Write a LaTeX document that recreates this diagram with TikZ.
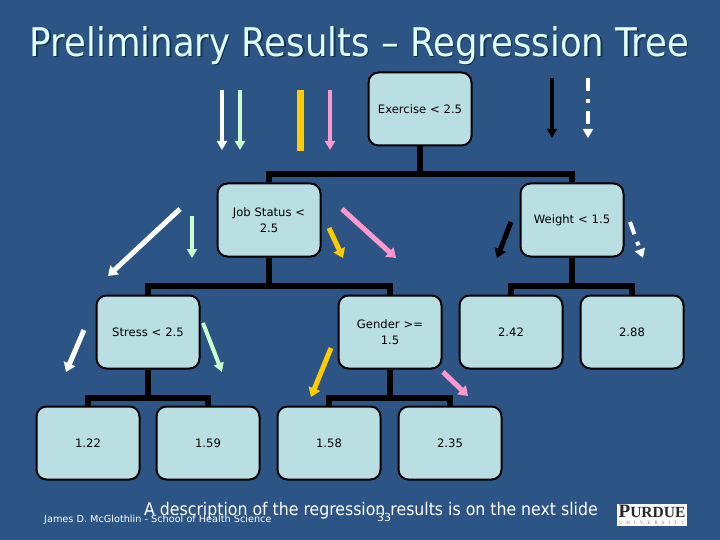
\documentclass[tikz,border=0pt]{standalone}
\usepackage{fontspec}
\setmainfont{DejaVu Sans}
\newfontfamily\condfont{DejaVu Sans Condensed}
\newfontfamily\logofont{Liberation Serif}
\usetikzlibrary{arrows.meta}
\definecolor{slidebg}{HTML}{2C5585}
\definecolor{boxfill}{HTML}{BADFE3}
\definecolor{mintc}{HTML}{CCFFCC}
\definecolor{pinkc}{HTML}{FF99CC}
\definecolor{goldc}{HTML}{FFCC00}
\definecolor{titlec}{HTML}{E0FFFF}
\definecolor{titleshade}{HTML}{16304F}
\newcommand{\titletext}{Preliminary Results – Regression Tree}
\tikzset{
  treebox/.style={draw=black, line width=2pt, fill=boxfill, rounded corners=10pt,
    minimum width=103pt, minimum height=73pt, text width=95pt, align=center,
    inner sep=0pt, font=\fontsize{11.6}{15.5}\selectfont, text=black},
  treeline/.style={draw=black, line width=6pt},
  hint/.style={line width=4pt, -{Triangle[width=10pt,length=9pt]}},
  hintsmall/.style={line width=5pt, -{Triangle[width=12pt,length=9pt]}},
  dashhint/.style={hint, dash pattern=on 13pt off 8pt on 4pt off 8pt},
}
\begin{document}
\begin{tikzpicture}[x=1pt, y=-1pt]
          \fill[slidebg] (0,0) rectangle (720,540);
          \useasboundingbox (0,0) rectangle (720,540);
          % title, the shade sits inside the same node
          \node[text=titlec, font=\condfont\fontsize{39.5}{44}\selectfont, inner sep=0pt] (title) at (359.5,46)
          {\rlap{\kern1.5pt\raisebox{-1.5pt}{\textcolor{titleshade}{\titletext}}}\titletext};
          % tree boxes
          \node[treebox] (exercise) at (420,109) {Exercise < 2.5};
          \node[treebox] (job) at (269,220) {Job Status <\\2.5};
          \node[treebox] (weight) at (572,220) {Weight < 1.5};
          \node[treebox] (stress) at (148,332) {Stress < 2.5};
          \node[treebox] (gender) at (390,332) {Gender >=\\1.5};
          \node[treebox] (v242) at (511,332) {2.42};
          \node[treebox] (v288) at (632,332) {2.88};
          \node[treebox] (v122) at (88,443) {1.22};
          \node[treebox] (v159) at (208,443) {1.59};
          \node[treebox] (v158) at (329,443) {1.58};
          \node[treebox] (v235) at (450,443) {2.35};
          % tree lines
          \draw[treeline] (exercise.south) -- ++(0,28) -| (job.north);
          \draw[treeline] (exercise.south) -- ++(0,28) -| (weight.north);
          \draw[treeline] (job.south) -- ++(0,28) -| (stress.north);
          \draw[treeline] (job.south) -- ++(0,28) -| (gender.north);
          \draw[treeline] (weight.south) -- ++(0,28) -| (v242.north);
          \draw[treeline] (weight.south) -- ++(0,28) -| (v288.north);
          \draw[treeline] (stress.south) -- ++(0,28) -| (v122.north);
          \draw[treeline] (stress.south) -- ++(0,28) -| (v159.north);
          \draw[treeline] (gender.south) -- ++(0,28) -| (v158.north);
          \draw[treeline] (gender.south) -- ++(0,28) -| (v235.north);
          % arrow ends
          \coordinate (a1) at (222,90);   \coordinate (b1) at (222,150);
          \coordinate (a2) at (240,90);   \coordinate (b2) at (240,150);
          \coordinate (a3) at (300,90);   \coordinate (b3) at (300,151);
          \coordinate (a4) at (330,90);   \coordinate (b4) at (330,150);
          \coordinate (a5) at (552,78);   \coordinate (b5) at (552,138);
          \coordinate (a6) at (588,78);   \coordinate (b6) at (588,138);
          \coordinate (a7) at (180,209);  \coordinate (b7) at (108,276);
          \coordinate (a8) at (192,216);  \coordinate (b8) at (192,258);
          \coordinate (a9) at (329,228);  \coordinate (b9) at (343,258);
          \coordinate (a10) at (342,209); \coordinate (b10) at (396,258);
          \coordinate (a11) at (511,222); \coordinate (b11) at (497,258);
          \coordinate (a12) at (630,222); \coordinate (b12) at (643,258);
          \coordinate (a13) at (84,330);  \coordinate (b13) at (66,372);
          \coordinate (a14) at (203,323); \coordinate (b14) at (222,372);
          \coordinate (a15) at (331,348); \coordinate (b15) at (311,397);
          \coordinate (a16) at (443,372); \coordinate (b16) at (468,396);
          % arrows
          \draw[hint, white] (a1) -- (b1);
          \draw[hint, mintc] (a2) -- (b2);
          \draw[goldc, line width=7pt] (a3) -- (b3);
          \draw[hint, pinkc] (a4) -- (b4);
          \draw[hint, black] (a5) -- (b5);
          \draw[dashhint, white] (a6) -- (b6);
          \draw[hintsmall, white] (a7) -- (b7);
          \draw[hint, mintc] (a8) -- (b8);
          \draw[hintsmall, goldc] (a9) -- (b9);
          \draw[hintsmall, pinkc] (a10) -- (b10);
          \draw[hintsmall, black] (a11) -- (b11);
          \draw[dashhint, white] (a12) -- (b12);
          \draw[hintsmall, white] (a13) -- (b13);
          \draw[hint, mintc] (a14) -- (b14);
          \draw[hintsmall, goldc] (a15) -- (b15);
          \draw[hintsmall, pinkc] (a16) -- (b16);
          % footer
          \node[text=white, font=\fontsize{9.7}{11}\selectfont, anchor=west, inner sep=0pt] (author) at (44,520) {James D. McGlothlin - School of Health Science};
          \node[text=white, font=\fontsize{11}{12}\selectfont, inner sep=0pt] (pagenum) at (384,517) {33};
          \node[text=white, font=\condfont\fontsize{17.5}{20}\selectfont, anchor=west, inner sep=0pt] (note) at (144,511) {A description of the regression results is on the next slide};
          % logo
          \node[fill=white, minimum width=70pt, minimum height=22pt, inner sep=0pt] (logo) at (652,515) {};
          \node[text=black!85, font=\logofont\bfseries\fontsize{19}{20}\selectfont, inner sep=0pt] (logotext) at (652,511.5) {P\fontsize{15.5}{20}\selectfont URDUE};
          \node[text=black!50, font=\logofont\fontsize{5}{6}\selectfont, inner sep=0pt] (logosub) at (652,523) {\makebox[66pt][s]{U\hfil N\hfil I\hfil V\hfil E\hfil R\hfil S\hfil I\hfil T\hfil Y}};
        \end{tikzpicture}
\end{document}
